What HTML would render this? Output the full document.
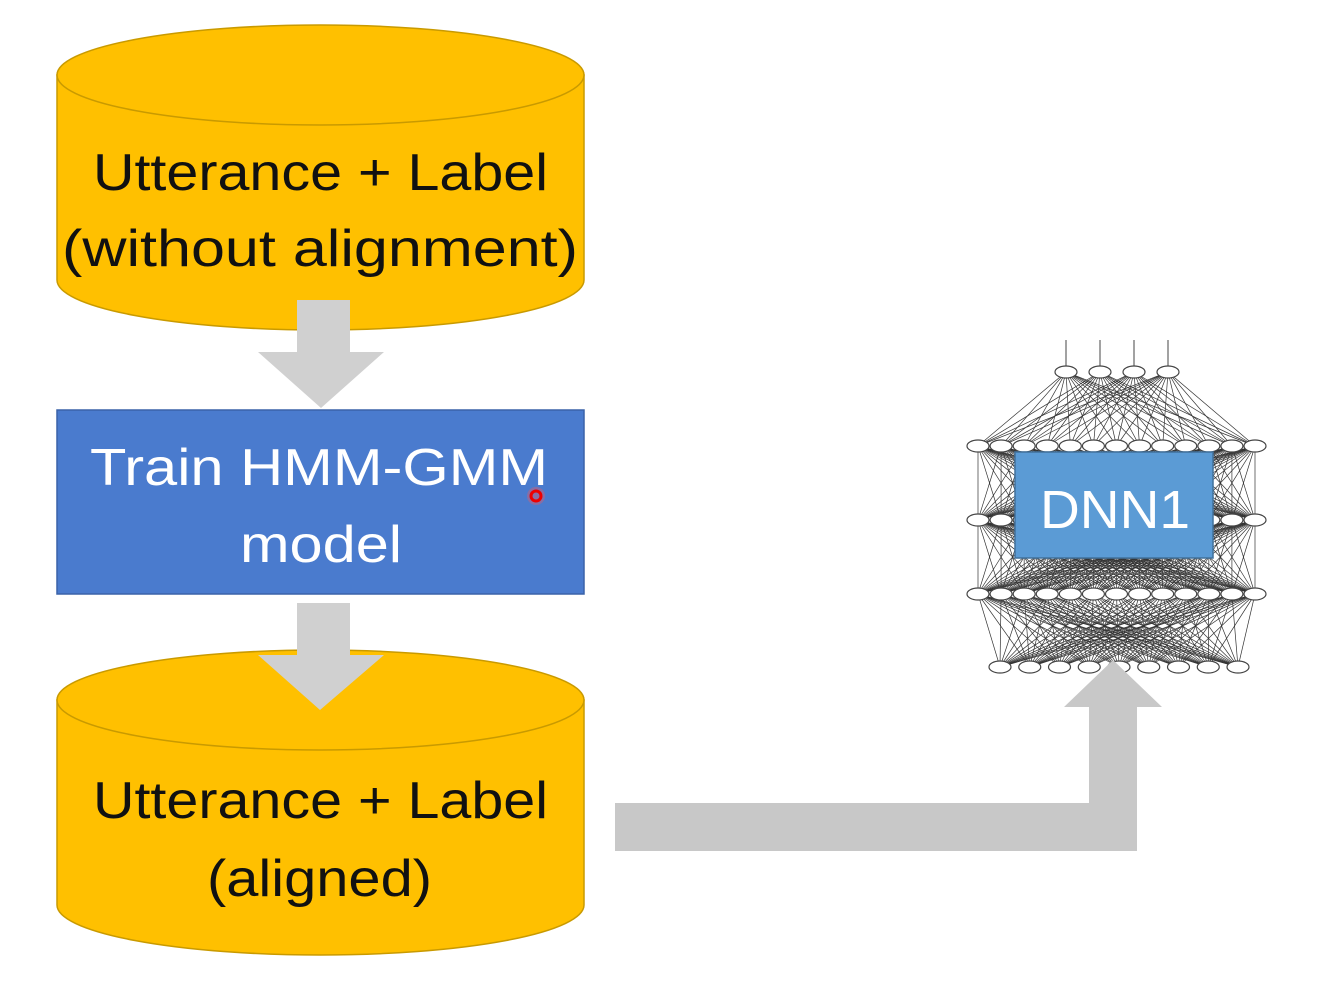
<!DOCTYPE html>
<html><head><meta charset="utf-8"><style>
html,body{margin:0;padding:0;background:#fff;width:1318px;height:996px;overflow:hidden}
svg{display:block}
text{font-family:"Liberation Sans",sans-serif}
</style></head><body>
<svg id="s" width="1318" height="996" viewBox="0 0 1318 996" xmlns="http://www.w3.org/2000/svg">
<path d="M57,75 L57,280 A263.5,50 0 0 0 584,280 L584,75 Z" fill="#FFC000" stroke="#C99A00" stroke-width="1.5"/>
<ellipse cx="320.5" cy="75" rx="263.5" ry="50" fill="#FFC000" stroke="#C99A00" stroke-width="1.5"/>
<text x="93" y="190" font-size="52" textLength="455" lengthAdjust="spacingAndGlyphs" fill="#111">Utterance + Label</text>
<text x="62" y="266" font-size="52" textLength="516" lengthAdjust="spacingAndGlyphs" fill="#111">(without alignment)</text>
<polygon points="297,300 350,300 350,352 384,352 321,408 258,352 297,352" fill="#D0D0D0"/>
<rect x="57" y="410" width="527" height="184" fill="#4A7BCE" stroke="#3A62A8" stroke-width="1.5"/>
<text x="90" y="485" font-size="52" textLength="458" lengthAdjust="spacingAndGlyphs" fill="#fff">Train HMM-GMM</text>
<text x="240" y="562" font-size="52" textLength="162" lengthAdjust="spacingAndGlyphs" fill="#fff">model</text>
<circle cx="536" cy="496" r="9" fill="#f55" opacity="0.35"/>
<circle cx="536" cy="496" r="5" fill="none" stroke="#e00" stroke-width="3"/>
<path d="M57,700 L57,905 A263.5,50 0 0 0 584,905 L584,700 Z" fill="#FFC000" stroke="#C99A00" stroke-width="1.5"/>
<ellipse cx="320.5" cy="700" rx="263.5" ry="50" fill="#FFC000" stroke="#C99A00" stroke-width="1.5"/>
<polygon points="297,603 350,603 350,655 384,655 320,710 258,655 297,655" fill="#D0D0D0"/>
<text x="93" y="818" font-size="52" textLength="455" lengthAdjust="spacingAndGlyphs" fill="#111">Utterance + Label</text>
<text x="207" y="896" font-size="52" textLength="225" lengthAdjust="spacingAndGlyphs" fill="#111">(aligned)</text>
<g id="net"></g>
<polygon points="615,803 1089,803 1089,707 1064,707 1113,660 1162,707 1137,707 1137,851 615,851" fill="#C8C8C8"/>
<rect x="1015" y="452" width="198" height="106" fill="#5B9BD5" stroke="#41719C" stroke-width="1.5"/>
<text x="1040" y="528" font-size="54" textLength="150" lengthAdjust="spacingAndGlyphs" fill="#fff">DNN1</text>
</svg>
<script>
(function(){
var g=document.getElementById("net");
function layer(n,x0,x1,y){var a=[];for(var i=0;i<n;i++)a.push([x0+(x1-x0)*i/(n-1),y]);return a;}
var L=[layer(4,1066,1168,372),layer(13,978,1255,446),layer(13,978,1255,520),layer(13,978,1255,594),layer(9,1000,1238,667)];
var h="";
for(var k=0;k<L.length-1;k++)for(var i=0;i<L[k].length;i++)for(var j=0;j<L[k+1].length;j++){
h+='<line x1="'+L[k][i][0]+'" y1="'+L[k][i][1]+'" x2="'+L[k+1][j][0]+'" y2="'+L[k+1][j][1]+'" stroke="#333" stroke-width="0.7"/>';}
for(var i=0;i<4;i++)h+='<line x1="'+L[0][i][0]+'" y1="340" x2="'+L[0][i][0]+'" y2="366" stroke="#444" stroke-width="1"/>';
for(var k=0;k<L.length;k++)for(var i=0;i<L[k].length;i++)h+='<ellipse cx="'+L[k][i][0]+'" cy="'+L[k][i][1]+'" rx="11" ry="6" fill="#fff" stroke="#444" stroke-width="1.2"/>';
g.innerHTML=h;
})();
</script>
</body></html>
